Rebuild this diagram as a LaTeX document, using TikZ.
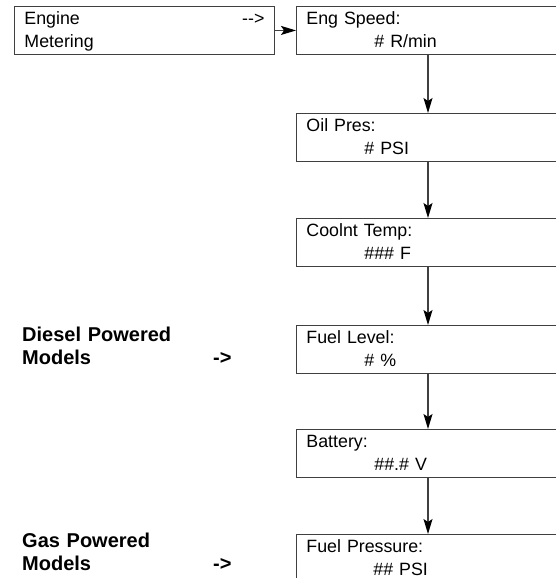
\documentclass[tikz,border=0pt]{standalone}
\usepackage{fontspec}
\setmainfont{Liberation Sans}
\usetikzlibrary{arrows.meta}

\begin{document}
\begin{tikzpicture}[x=1pt, y=-1pt,
    screen/.style={draw=black!75, line width=0.9pt, anchor=north west, align=left,
      text width=280pt, inner xsep=10pt, inner ysep=0pt, text height=18pt, text depth=30pt,
      font=\fontsize{17.8}{23}\selectfont},
    models/.style={anchor=north west, inner sep=0pt, align=left, text width=160pt,
      text height=15pt, font=\bfseries\fontsize{20}{23}\selectfont},
    pointer/.style={anchor=base west, inner sep=0pt, font=\bfseries\fontsize{20}{23}\selectfont},
    flow/.style={draw=black!75, line width=1.2pt, -{Stealth[length=15pt,width=9pt,inset=3pt,color=black]}}]
    \useasboundingbox (0,0) rectangle (556,578);
    \clip (0,0) rectangle (556,578);

    \node[screen, text width=240pt] (engine) at (14,6) {Engine\hfill-{}->\\Metering};
    \node[screen] (speed) at (296,6) {Eng Speed:\\\hspace*{68pt}\# R/min};
    \node[screen] (oil) at (296,113) {Oil Pres:\\\hspace*{58pt}\# PSI};
    \node[screen] (coolant) at (296,218) {Coolnt Temp:\\\hspace*{58pt}\#\#\# F};
    \node[screen] (fuel) at (296,325) {Fuel Level:\\\hspace*{58pt}\# \%};
    \node[screen] (battery) at (296,429) {Battery:\\\hspace*{68pt}\#\#.\# V};
    \node[screen] (pressure) at (296,534) {Fuel Pressure:\\\hspace*{67pt}\#\# PSI};

    \node[models] (diesel) at (22,326) {Diesel Powered\\Models};
    \node[pointer] (dieselptr) at (213,364) {->};
    \node[models] (gas) at (22,532) {Gas Powered\\Models};
    \node[pointer] (gasptr) at (213,570) {->};

    \coordinate (axis) at (428,0);
    \draw[flow] (engine.east) -- (speed.west);
    \draw[flow] (speed.south -| axis) -- (oil.north -| axis);
    \draw[flow] (oil.south -| axis) -- (coolant.north -| axis);
    \draw[flow] (coolant.south -| axis) -- (fuel.north -| axis);
    \draw[flow] (fuel.south -| axis) -- (battery.north -| axis);
    \draw[flow] (battery.south -| axis) -- (pressure.north -| axis);
\end{tikzpicture}
\end{document}
